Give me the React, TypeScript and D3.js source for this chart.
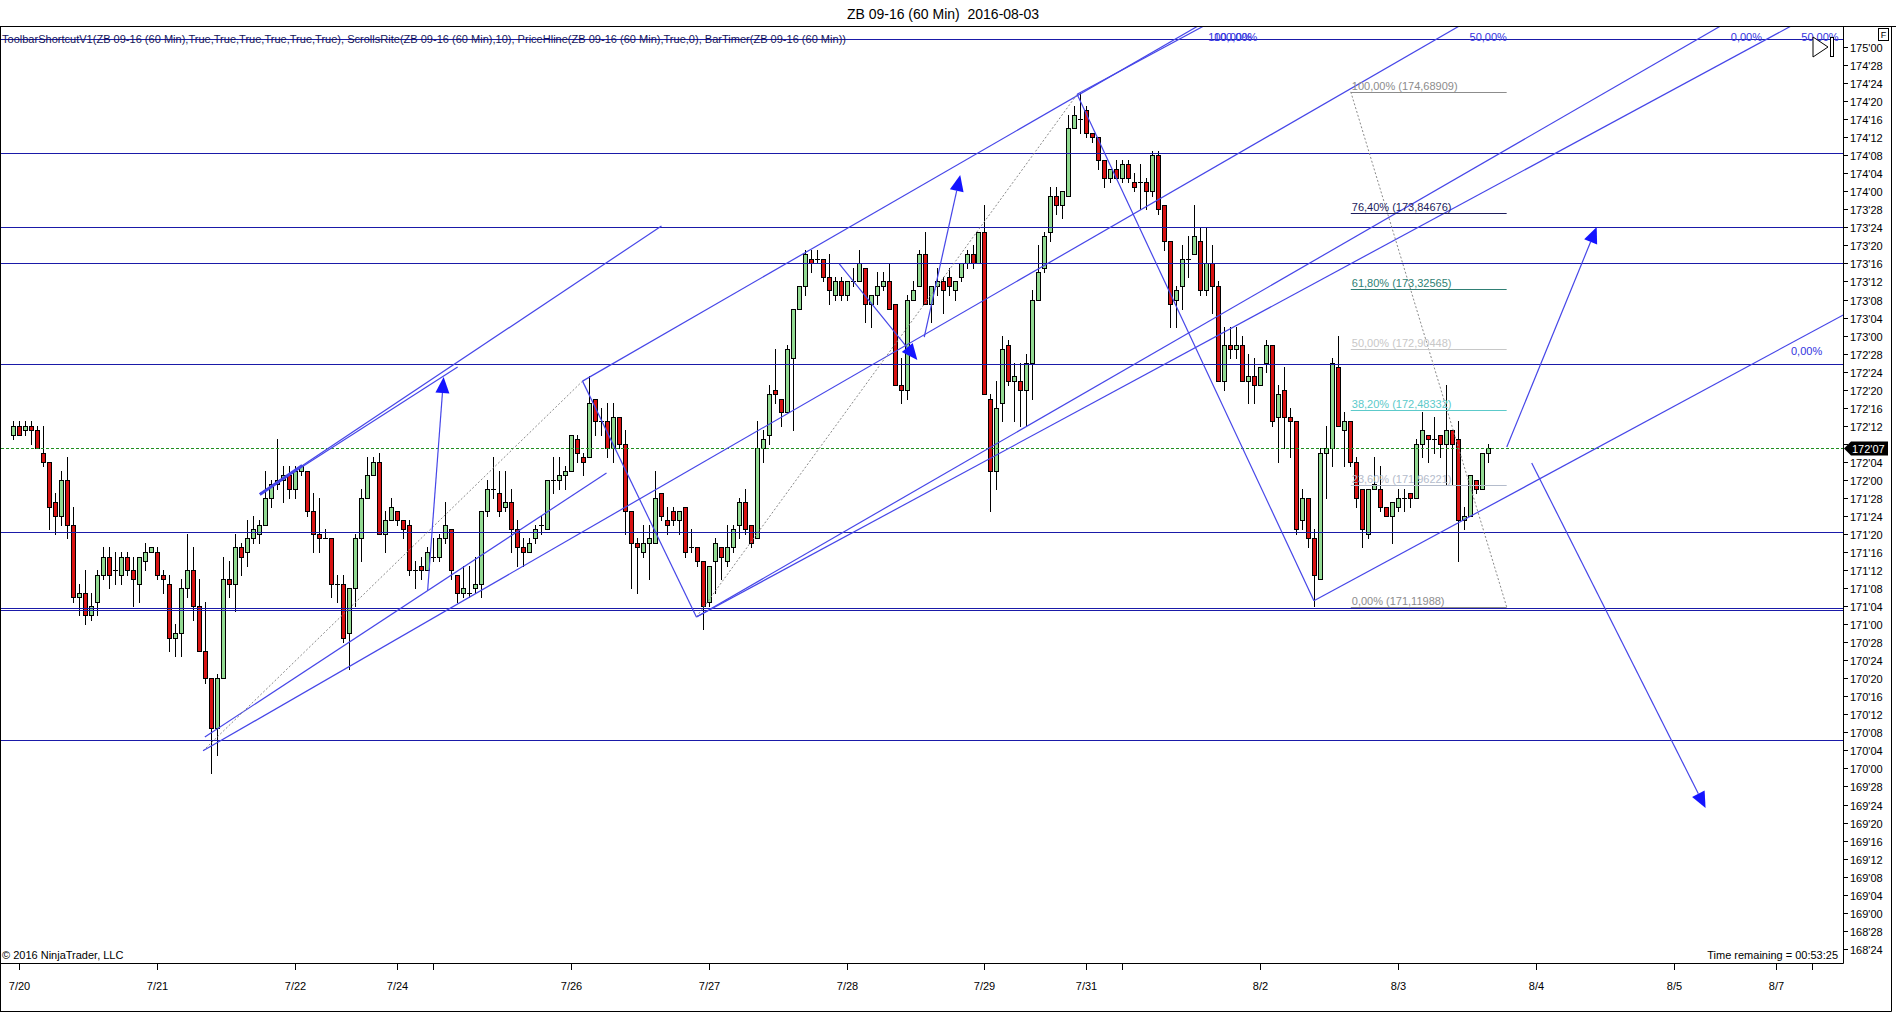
import { useEffect, useRef } from 'react';
import * as d3 from 'd3';

const WIDTH = 1896;
const HEIGHT = 1014;
const PLOT = { left: 1, top: 27, right: 1843, bottom: 963 };
const BAR_SPACING = 5.995;
const FONT = 'Arial, "Liberation Sans", sans-serif';

// ZB 09-16, 60 min bars. Prices are 32nds above 168'00
const BASE = 168;
const OPEN = [
  138, 140, 139, 140, 139, 134, 132, 123, 120, 128, 118, 102, 103, 98, 101, 107, 111, 108, 107, 111,
  108, 105, 110, 112, 112, 107, 105, 93, 94, 104, 108, 100, 90, 84, 73, 84, 106, 105, 113, 112,
  115, 116, 118, 124, 127, 128, 129, 126, 130, 130, 121, 116, 115, 115, 105, 105, 94, 104, 115, 124,
  129, 132, 116, 119, 121, 119, 118, 108, 109, 108, 111, 111, 115, 117, 107, 103, 103, 104, 105, 121,
  126, 125, 122, 123, 117, 113, 112, 115, 118, 117, 128, 128, 129, 130, 137, 133, 133, 146, 141, 141,
  135, 142, 136, 121, 114, 112, 114, 114, 125, 119, 121, 119, 122, 113, 113, 110, 101, 110, 113, 110,
  113, 118, 123, 118, 115, 135, 138, 148, 146, 143, 155, 166, 171, 177, 177, 177, 173, 169, 172, 169,
  172, 172, 175, 167, 169, 171, 172, 167, 149, 148, 168, 171, 178, 167, 171, 172, 173, 170, 173, 176,
  178, 176, 183, 146, 130, 145, 158, 150, 150, 148, 154, 168, 175, 183, 191, 189, 191, 206, 208, 210,
  205, 204, 199, 195, 197, 195, 198, 194, 194, 194, 192, 200, 189, 181, 168, 171, 177, 178, 181, 170,
  176, 171, 150, 158, 157, 158, 150, 151, 149, 154, 158, 142, 148, 142, 141, 119, 124, 115, 106, 134,
  135, 153, 139, 141, 132, 126, 116, 126, 126, 122, 120, 122, 124, 125, 124, 136, 138, 137, 138, 136,
  139, 137, 119, 120, 128, 126, 134,
];
const HIGH = [
  141, 141, 141, 141, 140, 140, 132, 125, 130, 133, 122, 105, 108, 103, 108, 113, 113, 112, 112, 112,
  111, 111, 114, 113, 113, 108, 107, 96, 106, 116, 113, 106, 101, 84, 85, 111, 110, 116, 114, 119,
  120, 119, 130, 128, 137, 131, 131, 131, 131, 130, 125, 124, 117, 115, 107, 107, 104, 116, 126, 133,
  133, 134, 121, 124, 121, 119, 119, 110, 111, 113, 115, 116, 123, 117, 107, 109, 109, 111, 121, 128,
  133, 130, 130, 126, 119, 115, 115, 118, 120, 128, 133, 133, 131, 138, 138, 134, 151, 146, 144, 145,
  145, 142, 139, 121, 115, 118, 118, 130, 125, 122, 122, 121, 122, 117, 113, 110, 109, 115, 113, 118,
  118, 124, 126, 118, 141, 139, 149, 157, 146, 158, 166, 171, 179, 179, 179, 177, 178, 173, 173, 172,
  175, 179, 175, 169, 174, 174, 176, 167, 155, 169, 172, 179, 183, 171, 175, 173, 175, 172, 176, 179,
  180, 183, 189, 147, 150, 160, 159, 154, 154, 156, 170, 180, 183, 193, 193, 192, 209, 211, 214, 211,
  205, 204, 199, 197, 199, 199, 199, 196, 198, 195, 201, 201, 189, 181, 171, 180, 182, 189, 184, 184,
  180, 172, 162, 162, 162, 160, 156, 155, 153, 159, 158, 149, 153, 144, 141, 126, 124, 117, 135, 140,
  155, 160, 143, 141, 133, 126, 126, 133, 131, 122, 123, 126, 126, 125, 137, 143, 138, 142, 138, 149,
  139, 141, 122, 129, 128, 134, 136,
];
const LOW = [
  137, 138, 138, 136, 135, 131, 117, 116, 118, 115, 101, 98, 96, 97, 98, 106, 104, 105, 105, 107,
  100, 101, 108, 112, 106, 103, 90, 89, 89, 102, 97, 90, 83, 63, 67, 84, 102, 99, 107, 109,
  114, 114, 118, 122, 126, 123, 124, 124, 129, 120, 112, 112, 115, 102, 101, 92, 86, 100, 110, 124,
  129, 116, 112, 119, 118, 115, 107, 104, 106, 108, 110, 110, 114, 106, 101, 102, 102, 103, 102, 120,
  124, 120, 121, 112, 109, 109, 112, 114, 116, 117, 125, 126, 126, 130, 132, 129, 133, 138, 138, 133,
  132, 135, 116, 104, 103, 111, 106, 114, 119, 116, 118, 116, 111, 112, 109, 95, 100, 103, 106, 109,
  112, 115, 116, 113, 115, 132, 136, 145, 140, 143, 139, 166, 169, 174, 176, 172, 167, 168, 168, 168,
  171, 172, 163, 162, 167, 170, 166, 149, 145, 146, 168, 171, 167, 163, 169, 165, 169, 168, 172, 175,
  175, 176, 147, 121, 126, 141, 149, 141, 140, 140, 146, 168, 174, 181, 187, 186, 191, 206, 205, 204,
  203, 197, 193, 194, 195, 194, 194, 192, 188, 188, 191, 187, 179, 162, 162, 166, 173, 178, 169, 169,
  165, 150, 148, 155, 155, 150, 145, 145, 149, 152, 140, 132, 135, 133, 116, 117, 113, 100, 106, 124,
  131, 140, 131, 131, 122, 113, 115, 126, 121, 120, 114, 121, 121, 122, 124, 133, 132, 134, 133, 127,
  127, 110, 117, 120, 125, 126, 132,
];
const CLOSE = [
  140, 138, 140, 139, 135, 132, 122, 120, 128, 118, 102, 103, 98, 100, 107, 111, 107, 108, 111, 108,
  106, 111, 112, 113, 107, 106, 93, 94, 104, 108, 100, 90, 84, 73, 84, 106, 105, 113, 111, 115,
  117, 118, 124, 127, 128, 129, 126, 130, 131, 121, 116, 115, 115, 105, 105, 93, 104, 115, 124, 129,
  132, 116, 119, 122, 119, 117, 108, 108, 108, 112, 111, 115, 118, 108, 103, 104, 103, 105, 121, 126,
  126, 121, 123, 117, 113, 112, 114, 117, 118, 128, 128, 129, 130, 138, 134, 132, 145, 141, 141, 135,
  142, 136, 121, 114, 113, 114, 115, 124, 120, 118, 119, 121, 112, 113, 110, 100, 109, 114, 111, 113,
  117, 123, 117, 114, 135, 137, 147, 147, 143, 157, 166, 171, 178, 176, 177, 173, 170, 172, 169, 172,
  172, 176, 167, 169, 171, 172, 166, 149, 148, 168, 170, 178, 167, 171, 172, 170, 171, 172, 176, 178,
  176, 183, 147, 130, 144, 157, 150, 151, 148, 154, 168, 174, 182, 191, 189, 192, 206, 209, 208, 205,
  204, 199, 195, 197, 195, 198, 195, 193, 194, 192, 200, 188, 181, 167, 170, 177, 177, 182, 170, 176,
  171, 150, 158, 157, 158, 150, 151, 149, 153, 158, 141, 147, 142, 141, 117, 124, 115, 107, 134, 135,
  154, 140, 141, 132, 124, 117, 126, 127, 122, 120, 123, 124, 124, 124, 136, 139, 137, 137, 136, 139,
  136, 119, 120, 129, 126, 134, 135,
];

// bar where each date starts; empty label = tick only
const DATE_BARS = [1, 24, 47, 64, 70, 93, 116, 139, 162, 179, 185, 208, 231, 254, 277, 294, 300];
const DATE_LABELS = ['7/20', '7/21', '7/22', '7/24', '', '7/26', '7/27', '7/28', '7/29', '7/31', '', '8/2', '8/3', '8/4', '8/5', '8/7', ''];

// horizontal lines, 32nds
const HLINES = [225.7, 200.5, 184, 176, 153.8, 116.5, 99.6, 99.1, 70.3];
const LAST_PRICE = 135;

// pitchfork anchors A, B, C as [bar, 32nds]
const FORK_1 = [[31.65, 67.9], [94.95, 149.9], [113.95, 97.6]];
const FORK_2 = [[113.95, 97.6], [177.45, 213.5], [216.95, 101.2]];
const FORK_LABELS = ['50,00%', '100,00%', '0,00%'];

// trend lines [bar1, v1, bar2, v2]
const TRENDS = [
  [41.12, 124.86, 108.12, 184.3],
  [41.12, 124.86, 74.12, 153.03],
  [31.95, 70.97, 98.95, 129.52],
];
const THICK_TREND = [41.12, 124.75, 48.2, 131.18];

// arrows [tail bar, tail v, tip bar, tip v]
const ARROWS = [
  [69.12, 103.57, 71.78, 150.81],
  [151.95, 159.68, 157.95, 195.6],
  [137.78, 175.9, 150.8, 154.6],
  [249.12, 135.28, 264.12, 184.08],
  [253.28, 131.73, 282.28, 55.22],
];

const FIB_HIGH = 174.68909;
const FIB_LOW = 171.11988;
const FIB_BARS = [223.1, 249.1];
const FIB_LEVELS = [1, 0.764, 0.618, 0.5, 0.382, 0.236, 0];
const FIB_COLORS = ['#8c8c8c', '#1c1c5c', '#2f7f74', '#c8c8c8', '#5ccaca', '#b4bccc', '#8c8c8c'];

const INDICATORS =
  'ToolbarShortcutV1(ZB 09-16 (60 Min),True,True,True,True,True,True), ScrollsRite(ZB 09-16 (60 Min),10), PriceHline(ZB 09-16 (60 Min),True,0), BarTimer(ZB 09-16 (60 Min))';

const fmt32 = (v: number) => {
  const whole = Math.floor(v / 32);
  const frac = Math.round(v - whole * 32);
  return `${BASE + whole}'${String(frac).padStart(2, '0')}`;
};

export default function App() {
  const svgRef = useRef<SVGSVGElement>(null);

  useEffect(() => {
    const svg = d3.select(svgRef.current);
    svg.selectAll('*').remove();

    const x = d3.scaleLinear().domain([0, 300]).range([13.3, 13.3 + 300 * BAR_SPACING]);
    const y = d3.scaleLinear().domain([24, 224]).range([948.8, 47]);
    const toV = (price: number) => (price - BASE) * 32;

    svg.append('rect').attr('width', WIDTH).attr('height', HEIGHT).attr('fill', '#fff');
    svg
      .append('defs')
      .append('clipPath')
      .attr('id', 'plot-clip')
      .append('rect')
      .attr('x', PLOT.left)
      .attr('y', PLOT.top)
      .attr('width', PLOT.right - PLOT.left)
      .attr('height', PLOT.bottom - PLOT.top);

    // title
    svg
      .append('text')
      .attr('x', 943)
      .attr('y', 19)
      .attr('text-anchor', 'middle')
      .attr('font-family', FONT)
      .attr('font-size', 14)
      .style('white-space', 'pre')
      .text('ZB 09-16 (60 Min)  2016-08-03');

    const g = svg.append('g').attr('clip-path', 'url(#plot-clip)');

    // candles
    OPEN.forEach((o, i) => {
      const c = CLOSE[i];
      const hi = Math.max(HIGH[i], o, c);
      const lo = Math.min(LOW[i], o, c);
      const n = Math.round(x(i));
      const cx = n + 0.5;
      g.append('line')
        .attr('x1', cx)
        .attr('x2', cx)
        .attr('y1', Math.round(y(hi)))
        .attr('y2', Math.round(y(lo)) + 1)
        .attr('stroke', '#000')
        .attr('stroke-width', 1);
      const top = Math.round(y(Math.max(o, c)));
      const bot = Math.round(y(Math.min(o, c)));
      if (o === c) {
        g.append('line')
          .attr('x1', n - 2)
          .attr('x2', n + 3)
          .attr('y1', top + 0.5)
          .attr('y2', top + 0.5)
          .attr('stroke', '#000');
      } else {
        g.append('rect')
          .attr('x', n - 1.5)
          .attr('y', top + 0.5)
          .attr('width', 4)
          .attr('height', Math.max(1, bot - top))
          .attr('fill', c > o ? '#92da92' : '#d81212')
          .attr('stroke', '#000')
          .attr('stroke-width', 1);
      }
    });

    // horizontal lines
    HLINES.forEach((v) => {
      const yy = Math.round(y(v)) + 0.5;
      g.append('line')
        .attr('x1', PLOT.left)
        .attr('x2', PLOT.right)
        .attr('y1', yy)
        .attr('y2', yy)
        .attr('stroke', '#1a1aa8')
        .attr('stroke-width', 1.2);
    });

    // last price line
    const yLast = Math.round(y(LAST_PRICE)) + 0.5;
    g.append('line')
      .attr('x1', PLOT.left)
      .attr('x2', PLOT.right)
      .attr('y1', yLast)
      .attr('y2', yLast)
      .attr('stroke', '#1f8f1f')
      .attr('stroke-dasharray', '3,2');

    const lineColor = '#4646e8';

    // trend lines
    TRENDS.forEach(([b1, v1, b2, v2]) => {
      g.append('line')
        .attr('x1', x(b1))
        .attr('y1', y(v1))
        .attr('x2', x(b2))
        .attr('y2', y(v2))
        .attr('stroke', lineColor)
        .attr('stroke-width', 1.2);
    });
    g.append('line')
      .attr('x1', x(THICK_TREND[0]))
      .attr('y1', y(THICK_TREND[1]))
      .attr('x2', x(THICK_TREND[2]))
      .attr('y2', y(THICK_TREND[3]))
      .attr('stroke', lineColor)
      .attr('stroke-width', 3);

    // pitchforks
    const labelLayer = svg.append('g');
    const drawFork = (anchors: number[][]) => {
      const [A, B, C] = anchors.map(([b, v]) => [x(b), y(v)]);
      const M = [(B[0] + C[0]) / 2, (B[1] + C[1]) / 2];
      const dx = M[0] - A[0];
      const dy = M[1] - A[1];
      const len = Math.hypot(dx, dy);
      const ux = dx / len;
      const uy = dy / len;
      g.append('line')
        .attr('x1', A[0])
        .attr('y1', A[1])
        .attr('x2', B[0])
        .attr('y2', B[1])
        .attr('stroke', '#8a8a8a')
        .attr('stroke-dasharray', '2,2');
      g.append('line')
        .attr('x1', B[0])
        .attr('y1', B[1])
        .attr('x2', C[0])
        .attr('y2', C[1])
        .attr('stroke', lineColor)
        .attr('stroke-width', 1.2);
      [A, B, C].forEach((P, k) => {
        g.append('line')
          .attr('x1', P[0])
          .attr('y1', P[1])
          .attr('x2', P[0] + ux * 4000)
          .attr('y2', P[1] + uy * 4000)
          .attr('stroke', lineColor)
          .attr('stroke-width', 1.2);
        const t = (PLOT.top - P[1]) / uy;
        const ex = P[0] + ux * t;
        let lx = ex + 12;
        let ly = 41;
        if (ex > PLOT.right - 40) {
          lx = PLOT.right - 52;
          ly = P[1] + ((lx - P[0]) * uy) / ux + 12;
        }
        labelLayer
          .append('text')
          .attr('x', lx)
          .attr('y', ly)
          .attr('font-family', FONT)
          .attr('font-size', 11)
          .attr('fill', '#3434e0')
          .text(FORK_LABELS[k]);
      });
    };
    drawFork(FORK_1);
    drawFork(FORK_2);

    // fibonacci retracement
    const fx1 = x(FIB_BARS[0]);
    const fx2 = x(FIB_BARS[1]);
    g.append('line')
      .attr('x1', fx1)
      .attr('y1', y(toV(FIB_HIGH)))
      .attr('x2', fx2)
      .attr('y2', y(toV(FIB_LOW)))
      .attr('stroke', '#8a8a8a')
      .attr('stroke-dasharray', '2,2');
    FIB_LEVELS.forEach((lvl, k) => {
      const price = FIB_LOW + lvl * (FIB_HIGH - FIB_LOW);
      const yy = Math.round(y(toV(price))) + 0.5;
      g.append('line')
        .attr('x1', fx1)
        .attr('x2', fx2)
        .attr('y1', yy)
        .attr('y2', yy)
        .attr('stroke', FIB_COLORS[k])
        .attr('stroke-width', 1.2);
      g.append('text')
        .attr('x', fx1 + 1)
        .attr('y', yy - 3)
        .attr('font-family', FONT)
        .attr('font-size', 11)
        .attr('fill', FIB_COLORS[k])
        .text(`${(lvl * 100).toFixed(2).replace('.', ',')}% (${price.toFixed(5).replace('.', ',')})`);
    });

    // arrows
    ARROWS.forEach(([b1, v1, b2, v2]) => {
      const x1 = x(b1);
      const y1 = y(v1);
      const x2 = x(b2);
      const y2 = y(v2);
      const ang = Math.atan2(y2 - y1, x2 - x1);
      const hl = 16;
      const hw = 7;
      const bx = x2 - hl * Math.cos(ang);
      const by = y2 - hl * Math.sin(ang);
      g.append('line')
        .attr('x1', x1)
        .attr('y1', y1)
        .attr('x2', bx)
        .attr('y2', by)
        .attr('stroke', lineColor)
        .attr('stroke-width', 1.2);
      g.append('polygon')
        .attr(
          'points',
          `${x2},${y2} ${bx + hw * Math.sin(ang)},${by - hw * Math.cos(ang)} ${bx - hw * Math.sin(ang)},${by + hw * Math.cos(ang)}`
        )
        .attr('fill', '#1414ff');
    });

    // indicator caption
    svg
      .append('text')
      .attr('x', 2)
      .attr('y', 43)
      .attr('font-family', FONT)
      .attr('font-size', 10)
      .attr('fill', '#14145a')
      .attr('textLength', 844)
      .attr('lengthAdjust', 'spacingAndGlyphs')
      .text(INDICATORS);

    svg.append('text').attr('x', 2).attr('y', 959).attr('font-family', FONT).attr('font-size', 11).text('© 2016 NinjaTrader, LLC');
    svg
      .append('text')
      .attr('x', 1838)
      .attr('y', 959)
      .attr('text-anchor', 'end')
      .attr('font-family', FONT)
      .attr('font-size', 11)
      .text('Time remaining = 00:53:25');

    // frames
    const frame = svg.append('g').attr('fill', 'none').attr('stroke', '#000').attr('stroke-width', 1);
    frame.append('line').attr('x1', 0).attr('x2', WIDTH).attr('y1', 26.5).attr('y2', 26.5);
    frame.append('line').attr('x1', 0.5).attr('x2', 0.5).attr('y1', 26.5).attr('y2', 1011.5);
    frame.append('line').attr('x1', PLOT.right + 0.5).attr('x2', PLOT.right + 0.5).attr('y1', 26.5).attr('y2', PLOT.bottom + 0.5);
    frame.append('line').attr('x1', 0).attr('x2', PLOT.right + 0.5).attr('y1', PLOT.bottom + 0.5).attr('y2', PLOT.bottom + 0.5);
    frame.append('line').attr('x1', 1891.5).attr('x2', 1891.5).attr('y1', 26.5).attr('y2', 1011.5);
    frame.append('line').attr('x1', 0).attr('x2', 1891.5).attr('y1', 1011.5).attr('y2', 1011.5);

    // y axis
    const axis = svg.append('g').attr('font-family', FONT).attr('font-size', 11);
    for (let v = 24; v <= 224; v += 4) {
      const yy = Math.round(y(v)) + 0.5;
      axis.append('line').attr('x1', PLOT.right).attr('x2', PLOT.right + 5).attr('y1', yy).attr('y2', yy).attr('stroke', '#000');
      if (Math.abs(y(v) - y(LAST_PRICE)) < 9) continue;
      axis.append('text').attr('x', PLOT.right + 7).attr('y', yy + 4).text(fmt32(v));
    }
    axis
      .append('polygon')
      .attr('points', `${PLOT.right + 1},${yLast} ${PLOT.right + 8},${yLast - 7} ${1888},${yLast - 7} ${1888},${yLast + 7} ${PLOT.right + 8},${yLast + 7}`)
      .attr('fill', '#000');
    axis.append('text').attr('x', PLOT.right + 9).attr('y', yLast + 4).attr('fill', '#fff').text(fmt32(LAST_PRICE));

    // x axis
    DATE_BARS.forEach((b, k) => {
      const xx = Math.round(x(b)) + 0.5;
      axis.append('line').attr('x1', xx).attr('x2', xx).attr('y1', PLOT.bottom).attr('y2', PLOT.bottom + 7).attr('stroke', '#000');
      if (DATE_LABELS[k]) {
        axis.append('text').attr('x', xx).attr('y', 990).attr('text-anchor', 'middle').text(DATE_LABELS[k]);
      }
    });

    // scroll button and F box
    svg.append('polygon').attr('points', '1813,37 1828,47 1813,57').attr('fill', '#fff').attr('stroke', '#000');
    svg.append('rect').attr('x', 1830.5).attr('y', 37.5).attr('width', 3).attr('height', 19).attr('fill', '#fff').attr('stroke', '#000');
    svg.append('rect').attr('x', 1878.5).attr('y', 28.5).attr('width', 10).attr('height', 12).attr('fill', '#fff').attr('stroke', '#000');
    svg.append('text').attr('x', 1883.5).attr('y', 38).attr('text-anchor', 'middle').attr('font-family', FONT).attr('font-size', 9).text('F');
  }, []);

  return (
    <div style={{ position: 'fixed', left: 0, top: 0 }}>
      <svg ref={svgRef} width={WIDTH} height={HEIGHT} style={{ display: 'block' }} />
    </div>
  );
}
